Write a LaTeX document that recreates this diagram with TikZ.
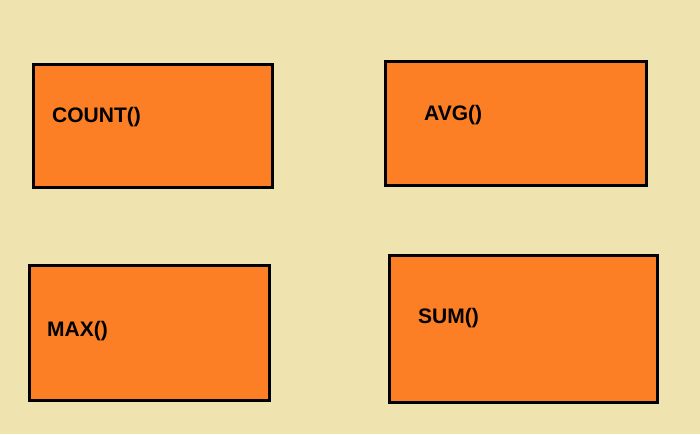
\documentclass[tikz,border=0pt]{standalone}
\usepackage{fontspec}
\setmainfont{Liberation Sans}
\definecolor{bg}{HTML}{EFE3B0}
\definecolor{box}{HTML}{FC7F25}
\begin{document}
\begin{tikzpicture}[x=1pt,y=-1pt,
  b/.style={draw=black,line width=3pt,fill=box},
  t/.style={anchor=west,font=\bfseries\fontsize{21}{24}\selectfont,inner sep=0pt}]
\fill[bg] (0,0) rectangle (700,434);
\useasboundingbox (0,0) rectangle (700,434);
\draw[b] (33,64) rectangle (272,187);
\draw[b] (385,61) rectangle (646,185);
\draw[b] (29,265) rectangle (269,400);
\draw[b] (389,255) rectangle (657,402);
\node[t] (count) at (52,117) {COUNT()};
\node[t] (avg) at (424,115) {AVG()};
\node[t] (max) at (47,331) {MAX()};
\node[t] (sum) at (418,318) {SUM()};
\end{tikzpicture}
\end{document}
